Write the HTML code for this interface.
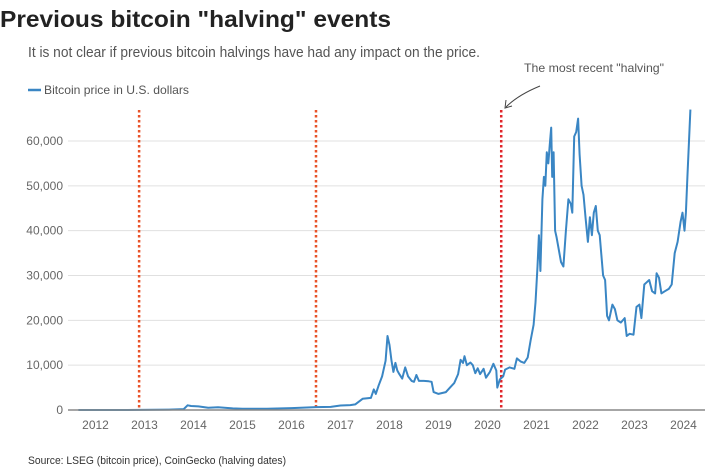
<!DOCTYPE html>
<html><head><meta charset="utf-8"><style>
html,body{margin:0;padding:0;background:#fff;}
svg{display:block;font-family:"Liberation Sans",sans-serif;}
</style></head><body>
<svg id="chart" width="725" height="470" viewBox="0 0 725 470" xmlns="http://www.w3.org/2000/svg">
<text x="0" y="27" font-size="23" font-weight="bold" fill="#222" textLength="391" lengthAdjust="spacingAndGlyphs">Previous bitcoin "halving" events</text>
<text x="28" y="57" font-size="15" fill="#555" textLength="452" lengthAdjust="spacingAndGlyphs">It is not clear if previous bitcoin halvings have had any impact on the price.</text>
<line x1="28" x2="41" y1="90" y2="90" stroke="#3a86c4" stroke-width="2.5"/>
<text x="44" y="94" font-size="12" fill="#555" textLength="145" lengthAdjust="spacingAndGlyphs">Bitcoin price in U.S. dollars</text>
<g id="grid"></g><g id="halvings"></g><g id="series"></g><g id="xaxis"></g>
<text x="524" y="72" font-size="12" fill="#555" textLength="140" lengthAdjust="spacingAndGlyphs">The most recent "halving"</text>
<path d="M540 86 Q518 95 506 107" fill="none" stroke="#444" stroke-width="1"/>
<path d="M506 100 L505 108 L512 106" fill="none" stroke="#444" stroke-width="1"/>
<text x="28" y="464" font-size="11" fill="#333" textLength="258" lengthAdjust="spacingAndGlyphs">Source: LSEG (bitcoin price), CoinGecko (halving dates)</text>
</svg>
<script>
const yTicks=[0,10000,20000,30000,40000,50000,60000];
const yTickLabels=["0","10,000","20,000","30,000","40,000","50,000","60,000"];
const xYears=[2012,2013,2014,2015,2016,2017,2018,2019,2020,2021,2022,2023,2024];
const halvingDates=[2012.89,2016.5,2020.28];
const dates=[
2011.65,2012.0,2012.5,2012.9,2013.2,2013.5,2013.8,2013.88,2013.95,2014.1,
2014.3,2014.5,2014.8,2015.0,2015.5,2015.9,2016.0,2016.5,2016.8,2017.0,
2017.2,2017.3,2017.45,2017.55,2017.62,2017.68,2017.72,2017.78,2017.85,2017.92,
2017.96,2018.0,2018.04,2018.08,2018.12,2018.16,2018.2,2018.26,2018.32,2018.38,
2018.45,2018.5,2018.55,2018.6,2018.7,2018.8,2018.86,2018.9,2019.0,2019.15,
2019.25,2019.32,2019.4,2019.45,2019.5,2019.53,2019.58,2019.65,2019.7,2019.75,
2019.8,2019.85,2019.92,2019.97,2020.05,2020.12,2020.18,2020.2,2020.25,2020.32,
2020.36,2020.45,2020.55,2020.6,2020.68,2020.75,2020.82,2020.88,2020.94,2020.98,
2021.02,2021.05,2021.08,2021.12,2021.15,2021.18,2021.21,2021.24,2021.27,2021.3,
2021.32,2021.35,2021.38,2021.41,2021.45,2021.5,2021.55,2021.6,2021.65,2021.7,
2021.73,2021.77,2021.81,2021.85,2021.88,2021.92,2021.96,2022.0,2022.05,2022.09,
2022.13,2022.17,2022.21,2022.25,2022.29,2022.36,2022.4,2022.44,2022.48,2022.55,
2022.6,2022.65,2022.72,2022.8,2022.84,2022.9,2022.98,2023.04,2023.1,2023.14,
2023.2,2023.25,2023.3,2023.36,2023.42,2023.45,2023.5,2023.55,2023.62,2023.7,
2023.76,2023.82,2023.88,2023.94,2023.98,2024.02,2024.05,2024.08,2024.14];
const prices=[
10,8,10,12,50,100,200,1050,900,800,
500,600,350,300,260,400,420,650,700,1000,
1100,1250,2500,2600,2700,4600,3600,5500,7500,11000,
16500,14500,11000,8500,10500,8800,8000,7000,9500,7500,
6500,6300,7800,6500,6500,6400,6300,4000,3600,4000,
5200,6000,8000,11200,10500,12000,10000,10600,10000,8200,
9300,8000,9200,7200,8500,10300,8800,5000,6800,7500,
9000,9500,9200,11500,10800,10500,11700,15500,19000,24000,
32000,39000,31000,47000,52000,50000,57500,55000,59000,63000,
52000,57500,40000,38500,36000,33000,32000,40000,47000,46000,
44000,61000,62000,65000,57000,50000,48000,43000,37500,43000,
39000,44000,45500,40000,39000,30000,29000,21000,20000,23500,
22500,20000,19500,20500,16500,17000,16800,23000,23500,20500,
28000,28500,29000,26500,26000,30500,29500,26000,26500,27000,
28000,35000,37500,42000,44000,40000,44000,52000,67000];
const X=y=>95.5+(y-2012)*49.0;
const Y=v=>410-v/60000*269;
const NS="http://www.w3.org/2000/svg";
function mk(tag,attrs,parent){const e=document.createElementNS(NS,tag);for(const k in attrs)e.setAttribute(k,attrs[k]);parent.appendChild(e);return e;}
const grid=document.getElementById('grid');
yTicks.forEach((v,i)=>{
  if(v>0){const l=mk('line',{x1:68,x2:705,y1:Y(v),y2:Y(v),stroke:'#e0e0e0','stroke-width':1},grid);
  
  }
  const t=mk('text',{x:63,y:Y(v)+4,'font-size':12,fill:'#666','text-anchor':'end'},grid);
  
  
  t.textContent=yTickLabels[i];
});
const xa=document.getElementById('xaxis');
const base=mk('line',{x1:68,x2:705,y1:410,y2:410,stroke:'#888','stroke-width':1.5},xa);


xYears.forEach(yr=>{
  const t=mk('text',{x:X(yr),y:429,'font-size':12,fill:'#666','text-anchor':'middle'},xa);
  
  
  t.textContent=yr;
});
const hg=document.getElementById('halvings');
halvingDates.forEach((d,i)=>{
  const l=mk('line',{x1:X(d),x2:X(d),y1:110,y2:410,stroke:i==2?'#e0262a':'#e8532a','stroke-width':2.5,'stroke-dasharray':'2.5 2.5'},hg);
  
  
});
const n=Math.min(dates.length,prices.length);
const pts=[];
for(let i=0;i<n;i++)pts.push(X(dates[i]).toFixed(1)+','+Y(prices[i]).toFixed(1));
const pl=mk('polyline',{points:pts.join(' '),fill:'none',stroke:'#3a86c4','stroke-width':2,'stroke-linejoin':'round'},document.getElementById('series'));


</script>
</body></html>
